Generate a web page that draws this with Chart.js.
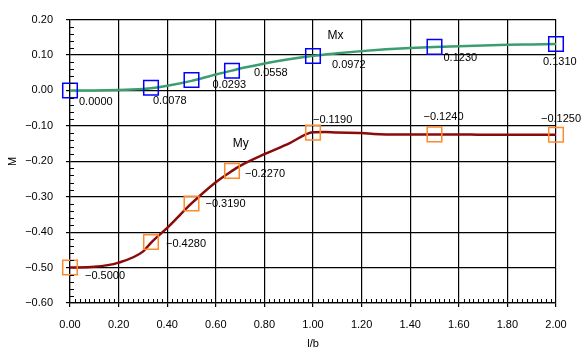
<!DOCTYPE html>
<html>
<head>
<meta charset="utf-8">
<script src="https://cdn.jsdelivr.net/npm/chart.js@4/dist/chart.umd.min.js"></script>
<style>
html,body{margin:0;padding:0;background:#fff;}
canvas{display:block;}
</style>
</head>
<body>
<canvas id="c" width="585" height="351"></canvas>
<script>
// ---- data ----
const markerX = [0, 1/3, 0.5, 2/3, 1.0, 1.5, 2.0];
const mxValues = [0.0000, 0.0078, 0.0293, 0.0558, 0.0972, 0.1230, 0.1310];
const myValues = [-0.5000, -0.4280, -0.3190, -0.2270, -0.1190, -0.1240, -0.1250];

const mxCurveX = [0, 0.1, 0.2, 0.3, 0.333, 0.4, 0.5, 0.6, 0.667, 0.7, 0.8, 0.9, 1.0, 1.1, 1.2, 1.3, 1.4, 1.5, 1.6, 1.7, 1.8, 1.9, 2.0];
const mxCurveY = [0, 0.000, 0.001, 0.004, 0.006, 0.013, 0.027, 0.045, 0.056, 0.062, 0.076, 0.088, 0.098, 0.105, 0.111, 0.116, 0.120, 0.123, 0.125, 0.127, 0.129, 0.130, 0.131];

const myCurveX = [0, 0.1, 0.2, 0.3, 0.333, 0.4, 0.5, 0.6, 0.667, 0.7, 0.8, 0.9, 1.0, 1.05, 1.1, 1.2, 1.25, 1.3, 1.4, 1.5, 1.6, 1.7, 1.8, 1.9, 2.0];
const myCurveY = [-0.5, -0.498, -0.486, -0.455, -0.430, -0.388, -0.319, -0.259, -0.227, -0.213, -0.180, -0.150, -0.118, -0.117, -0.119, -0.120, -0.123, -0.124, -0.124, -0.124, -0.124, -0.125, -0.125, -0.125, -0.125];

const xTicksMin = 0, xTicksMax = 2.0, xStep = 0.2;
const yTicksMin = -0.6, yTicksMax = 0.2, yStep = 0.1;

// label placement (style / layout only): [dx, dy] from marker centre
const mxLabelOffsets = [[9,12],[2,13],[21,5],[22,2],[19,9],[9,11],[-13,18]];
const myLabelOffsets = [[15,8],[15,2],[14,1],[13,3],[0,-13],[-11,-17],[-15,-16]];

const FONT = "'Liberation Sans', Arial, sans-serif";
const fmt = v => (v < 0 ? '\u2212' : '') + Math.abs(v).toFixed(4);
const fmtTick = (v, d) => { const r = Math.round(v*100)/100; return (r < 0 ? '\u2212' : '') + Math.abs(r).toFixed(d); };

const pts = (xs, ys) => xs.map((x, i) => ({x, y: ys[i]}));

const overlay = {
  id: 'overlay',
  afterDatasetsDraw(chart) {
    const {ctx, chartArea: a, scales: {x, y}} = chart;
    ctx.save();
    ctx.strokeStyle = '#000';
    ctx.lineWidth = 1;
    ctx.beginPath();
    for (let i = 0; i <= 40; i++) {
      if (i % 5 === 0) continue;
      const py = Math.round(y.getPixelForValue(yTicksMin + i * 0.02)) + 0.5;
      ctx.moveTo(a.left, py); ctx.lineTo(a.left + 4, py);
    }
    for (let i = 0; i <= 100; i++) {
      if (i % 10 === 0) continue;
      const px = Math.round(x.getPixelForValue(i * 0.02)) + 0.5;
      ctx.moveTo(px, a.bottom); ctx.lineTo(px, a.bottom - 4);
    }
    ctx.stroke();
    ctx.fillStyle = '#000';
    ctx.font = '11px ' + FONT;
    ctx.textAlign = 'left';
    ctx.textBaseline = 'middle';
    markerX.forEach((xv, i) => {
      const px = x.getPixelForValue(xv), py = y.getPixelForValue(mxValues[i]);
      ctx.fillText(fmt(mxValues[i]), px + mxLabelOffsets[i][0], py + mxLabelOffsets[i][1]);
      const py2 = y.getPixelForValue(myValues[i]);
      ctx.fillText(fmt(myValues[i]), px + myLabelOffsets[i][0], py2 + myLabelOffsets[i][1]);
    });
    ctx.font = '12px ' + FONT;
    ctx.fillText('Mx', x.getPixelForValue(1.06), y.getPixelForValue(0.154));
    ctx.fillText('My', x.getPixelForValue(0.67), y.getPixelForValue(-0.151));
    ctx.restore();
  }
};

new Chart(document.getElementById('c'), {
  type: 'scatter',
  data: {
    datasets: [
      { label: 'Mx curve', data: pts(mxCurveX, mxCurveY), showLine: true, borderColor: '#3a9e6e', borderWidth: 2.5, pointRadius: 0, cubicInterpolationMode: 'monotone', order: 3 },
      { label: 'My curve', data: pts(myCurveX, myCurveY), showLine: true, borderColor: '#8b0a0a', borderWidth: 2.5, pointRadius: 0, cubicInterpolationMode: 'monotone', order: 3 },
      { label: 'Mx', data: pts(markerX, mxValues), showLine: false, pointStyle: 'rect', pointRadius: 10.3, pointBorderColor: '#0000ff', pointBackgroundColor: 'rgba(0,0,0,0)', pointBorderWidth: 1.5, clip: false, order: 1 },
      { label: 'My', data: pts(markerX, myValues), showLine: false, pointStyle: 'rect', pointRadius: 10.3, pointBorderColor: '#ff8a2a', pointBackgroundColor: 'rgba(0,0,0,0)', pointBorderWidth: 1.5, clip: false, order: 1 }
    ]
  },
  options: {
    responsive: false,
    animation: false,
    devicePixelRatio: 1,
    layout: { padding: { top: 17, right: 29, left: 0, bottom: 0 } },
    plugins: { legend: { display: false }, tooltip: { enabled: false } },
    scales: {
      x: {
        type: 'linear', min: xTicksMin, max: xTicksMax,
        ticks: { stepSize: xStep, padding: 11, color: '#000', font: { family: FONT, size: 11 }, maxRotation: 0, callback: v => fmtTick(v, 2) },
        grid: { color: '#000', lineWidth: 1.2, tickLength: 4 },
        border: { color: '#000', width: 1.2 },
        title: { display: true, text: 'l/b', color: '#000', font: { family: FONT, size: 11 }, padding: { top: 0, bottom: 0 } },
        afterFit: s => { s.height = 48; }
      },
      y: {
        type: 'linear', min: yTicksMin, max: yTicksMax,
        ticks: { stepSize: yStep, padding: 13, color: '#000', font: { family: FONT, size: 11 }, callback: v => fmtTick(v, 2) },
        grid: { color: '#000', lineWidth: 1.2, tickLength: 4 },
        border: { color: '#000', width: 1.2 },
        title: { display: true, text: 'M', color: '#000', font: { family: FONT, size: 11 }, padding: { top: 6, bottom: 0 } },
        afterFit: s => { s.width = 70; }
      }
    }
  },
  plugins: [overlay]
});
</script>
</body>
</html>
